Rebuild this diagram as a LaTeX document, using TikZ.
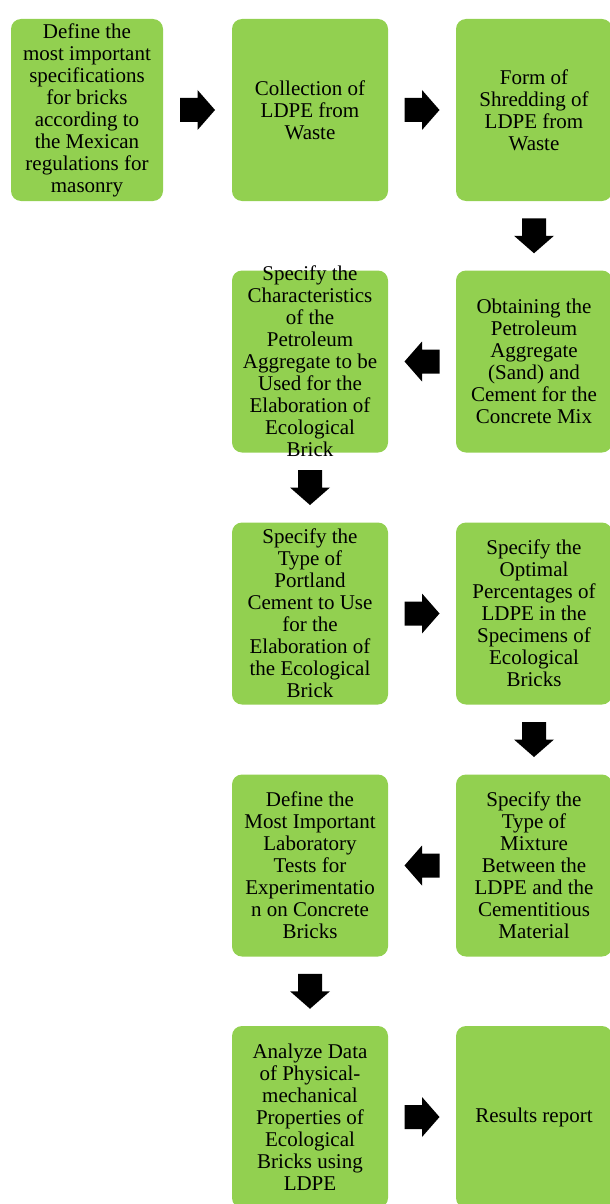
\documentclass[tikz,border=0pt]{standalone}
\usepackage{fontspec}
\setmainfont{Liberation Serif}
\usetikzlibrary{calc}
\definecolor{boxgreen}{HTML}{92D050}
\tikzset{
  stepbox/.style={fill=boxgreen, draw=none, rounded corners=10pt, inner sep=0pt,
    minimum height=182pt, minimum width=156pt},
  steptext/.style={align=center, inner sep=0pt, text=black,
    font=\fontsize{21}{22}\selectfont},
  rarrow/.pic={\fill[black] (-17.5,-12) -- (0,-12) -- (0,-20) -- (17.5,0) -- (0,20) -- (0,12) -- (-17.5,12) -- cycle;},
  larrow/.pic={\fill[black] (17.5,-12) -- (0,-12) -- (0,-20) -- (-17.5,0) -- (0,20) -- (0,12) -- (17.5,12) -- cycle;},
  darrow/.pic={\fill[black] (-12,-17.5) -- (12,-17.5) -- (12,0) -- (20,0) -- (0,17.5) -- (-20,0) -- (-12,0) -- cycle;}
}
\begin{document}
\begin{tikzpicture}[x=1pt, y=-1pt]
\useasboundingbox (0,0) rectangle (610,1204);
% row 1
\node[stepbox, minimum width=152pt] (b1) at (87,110) {};
\node[stepbox] (b2) at (310,110) {};
\node[stepbox] (b3) at (534,110) {};
% row 2
\node[stepbox] (b4) at (534,361.5) {};
\node[stepbox] (b5) at (310,361.5) {};
% row 3
\node[stepbox] (b6) at (310,613.5) {};
\node[stepbox] (b7) at (534,613.5) {};
% row 4
\node[stepbox] (b8) at (534,865.5) {};
\node[stepbox] (b9) at (310,865.5) {};
% row 5
\node[stepbox] (b10) at (310,1117) {};
\node[stepbox] (b11) at (534,1117) {};
% texts
\node[steptext] (t1) at (b1) {Define the\\most important\\specifications\\for bricks\\according to\\the Mexican\\regulations for\\masonry};
\node[steptext] (t2) at (b2) {Collection of\\LDPE from\\Waste};
\node[steptext] (t3) at (b3) {Form of\\Shredding of\\LDPE from\\Waste};
\node[steptext] (t4) at (b4) {Obtaining the\\Petroleum\\Aggregate\\(Sand) and\\Cement for the\\Concrete Mix};
\node[steptext] (t5) at (b5) {Specify the\\Characteristics\\of the\\Petroleum\\Aggregate to be\\Used for the\\Elaboration of\\Ecological\\Brick};
\node[steptext] (t6) at (b6) {Specify the\\Type of\\Portland\\Cement to Use\\for the\\Elaboration of\\the Ecological\\Brick};
\node[steptext] (t7) at (b7) {Specify the\\Optimal\\Percentages of\\LDPE in the\\Specimens of\\Ecological\\Bricks};
\node[steptext] (t8) at (b8) {Specify the\\Type of\\Mixture\\Between the\\LDPE and the\\Cementitious\\Material};
\node[steptext] (t9) at (b9) {Define the\\Most Important\\Laboratory\\Tests for\\Experimentatio\\n on Concrete\\Bricks};
\node[steptext] (t10) at (b10) {Analyze Data\\of Physical-\\mechanical\\Properties of\\Ecological\\Bricks using\\LDPE};
\node[steptext] (t11) at (b11) {Results report};
% block arrows
\path ($(b1.east)!0.5!(b2.west)$) pic {rarrow};
\path ($(b2.east)!0.5!(b3.west)$) pic {rarrow};
\path ($(b3.south)!0.5!(b4.north)$) pic {darrow};
\path ($(b4.west)!0.5!(b5.east)$) pic {larrow};
\path ($(b5.south)!0.5!(b6.north)$) pic {darrow};
\path ($(b6.east)!0.5!(b7.west)$) pic {rarrow};
\path ($(b7.south)!0.5!(b8.north)$) pic {darrow};
\path ($(b8.west)!0.5!(b9.east)$) pic {larrow};
\path ($(b9.south)!0.5!(b10.north)$) pic {darrow};
\path ($(b10.east)!0.5!(b11.west)$) pic {rarrow};
\end{tikzpicture}
\end{document}
